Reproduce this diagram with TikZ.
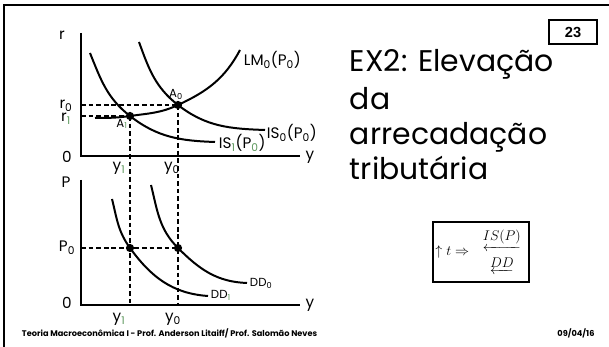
\documentclass[tikz,border=0pt]{standalone}
\usepackage{amsmath,amssymb}
\usepackage{fontspec}
\setmainfont{Poppins}
\newfontfamily\arialfont{Liberation Sans}
\definecolor{subgreen}{RGB}{90,150,90}
\newcommand{\lo}[1]{\textsubscript{#1}}
\newcommand{\glo}[1]{\textsubscript{\textcolor{subgreen}{#1}}}

\begin{document}
\begin{tikzpicture}[x=0.03cm,y=0.03cm,line width=1.7pt]
\tikzstyle{lab}=[inner sep=0pt,font=\fontsize{13}{14}\selectfont];
\tikzstyle{small}=[inner sep=0pt,font=\fontsize{10}{11}\selectfont];
\tikzstyle{guide}=[line width=1.1pt,dash pattern=on 4pt off 2.5pt];
\tikzstyle{pt}=[circle,fill,inner sep=0pt,minimum size=7pt];
\tikzstyle{title}=[anchor=base west,inner sep=0pt,font=\fontsize{25.5}{30}\selectfont];

\useasboundingbox (0,0) rectangle (609,347);
\draw [line width=2.5pt] (4,0) -- (4,342) -- (609,342);

% IS-LM
\coordinate (rtop) at (81,314);
\coordinate (o1) at (81,191);
\coordinate (yend1) at (300,191);
\draw (rtop) -- (o1) -- (yend1);
\node [pt] (A0) at (178,242) {};
\node [pt] (A1) at (130,231) {};
\coordinate (r0) at (81,242);
\coordinate (r1) at (81,231);
\coordinate (is1s) at (90,294);
\coordinate (is1e) at (215,205);
\coordinate (is0s) at (139,305);
\coordinate (is0e) at (265,217);
\coordinate (lms) at (95,229);
\coordinate (lme) at (240,297);
\draw (is1s) to[out=-68,in=142] (A1.center) to[out=-38,in=178] (is1e);
\draw (is0s) to[out=-70,in=142] (A0.center) to[out=-38,in=178] (is0e);
\draw (lms) to[out=0,in=188] (A1.center) to[out=8,in=205] (A0.center) to[out=25,in=242] (lme);
\node [lab] (r) at (62,312) {r};
\node [lab] (zero1) at (67,190) {0};
\node [lab] (y1ax) at (310,190) {y};
\node [lab] (lr0) at (66,241) {r\lo{0}};
\node [lab] (lr1) at (66,228) {r\glo{1}};
\node [small] (lA0) at (176,253) {A\lo{0}};
\node [small] (lA1) at (122,223) {A\glo{1}};
\node [lab,anchor=west] (lm) at (243,287) {LM\lo{0}(P\lo{0})};
\node [lab,anchor=west] (is0) at (266,214) {IS\lo{0}(P\lo{0})};
\node [lab,anchor=west] (is1) at (218,204) {IS\glo{1}(P\glo{0})};
\node [lab] (ly1a) at (119,179) {y\glo{1}};
\node [lab] (ly0a) at (172,179) {y\lo{0}};

% DD
\coordinate (ptop) at (81,167);
\coordinate (o2) at (81,42);
\coordinate (yend2) at (300,42);
\draw (ptop) -- (o2) -- (yend2);
\node [pt] (B0) at (178,99) {};
\node [pt] (B1) at (130,99) {};
\coordinate (p0) at (81,99);
\coordinate (f0) at (178,42);
\coordinate (f1) at (130,42);
\coordinate (dd1s) at (112,148);
\coordinate (dd1e) at (208,51);
\coordinate (dd0s) at (151,162);
\coordinate (dd0e) at (247,64);
\draw (dd1s) to[out=-76,in=126] (B1.center) to[out=-54,in=176] (dd1e);
\draw (dd0s) to[out=-76,in=135] (B0.center) to[out=-45,in=178] (dd0e);
\node [lab] (P) at (66,165) {P};
\node [lab] (lp0) at (67,99) {P\lo{0}};
\node [lab] (zero2) at (67,44) {0};
\node [lab] (y2ax) at (310,42) {y};
\node [small,anchor=west] (dd1) at (210,52) {DD\glo{1}};
\node [small,anchor=west] (dd0) at (249,64) {DD\lo{0}};
\node [lab] (ly1b) at (119,28) {y\glo{1}};
\node [lab] (ly0b) at (173,28) {y\lo{0}};

\draw [guide] (r0) -- (A0.center);
\draw [guide] (r1) -- (A1.center);
\draw [guide] (p0) -- (B0.center);
\draw [guide] (A0.center) -- (f0);
\draw [guide] (A1.center) -- (f1);

% texto
\node [draw,line width=1.1pt,minimum width=40.8pt,minimum height=20.4pt,font=\arialfont\bfseries\fontsize{12.5}{13}\selectfont] (num) at (573,315) {23};
\node [title] (t1) at (349,275) {EX2: Elevação};
\node [title] (t2) at (349,237) {da};
\node [title] (t3) at (349,202) {arrecadação};
\node [title] (t4) at (349,167) {tributária};
\node [draw,line width=1.6pt,minimum width=81.6pt,minimum height=51pt,inner sep=2pt,font=\fontsize{12.5}{14}\selectfont] (rule) at (481,95)
  {$\uparrow t\Rightarrow\ \begin{array}{c}\underleftarrow{IS(P)}\\[9pt]\underleftarrow{DD}\end{array}$};
\node [anchor=west,inner sep=0pt,font=\bfseries\fontsize{7}{8}\selectfont] (foot) at (21,14) {Teoria Macroeconômica I - Prof. Anderson Litaiff/ Prof. Salomão Neves};
\node [inner sep=0pt,font=\bfseries\fontsize{7}{8}\selectfont] (date) at (576,14) {09/04/16};
\end{tikzpicture}
\end{document}
